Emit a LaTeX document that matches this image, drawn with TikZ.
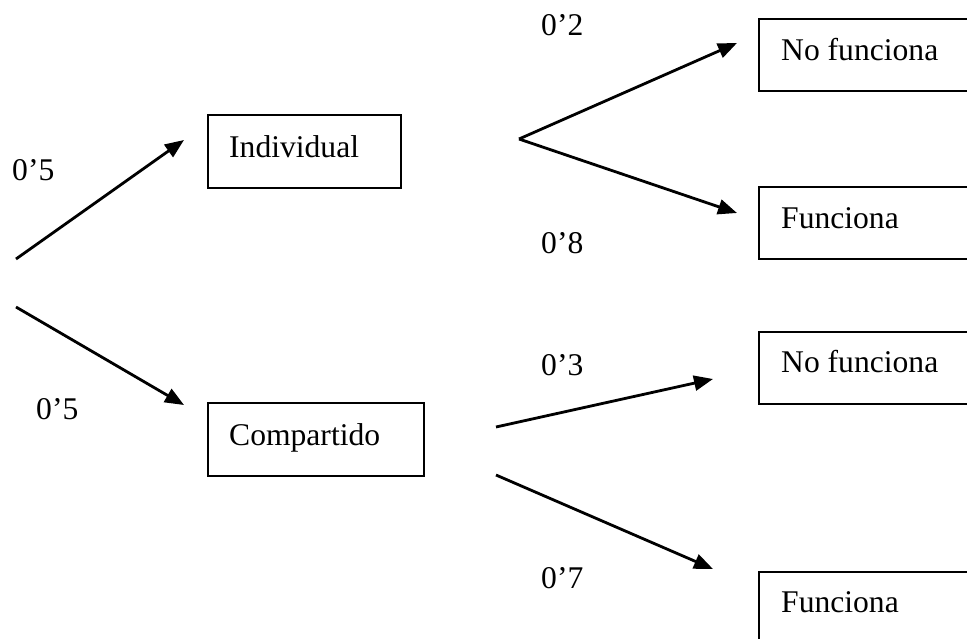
\documentclass[tikz,border=0pt]{standalone}
\usepackage{fontspec}
\setmainfont{Liberation Serif}
\usetikzlibrary{arrows.meta}
\begin{document}
\begin{tikzpicture}[x=1pt,y=-1pt,
  box/.style={draw,line width=1.5pt,rectangle,inner sep=0pt},
  txt/.style={anchor=base west,inner sep=0pt,font=\fontsize{31.6}{36}\selectfont},
  arr/.style={line width=2.8pt,-{Triangle[length=19pt,width=15pt]}}]
\clip (0,0) rectangle (967,638);
\fill[white] (0,0) rectangle (967,638);
% boxes
\node[box,minimum width=193pt,minimum height=73pt] (bI) at (304.5,151.5) {};
\node[box,minimum width=216pt,minimum height=73pt] (bC) at (316,439.5) {};
\node[box,minimum width=260pt,minimum height=72pt] (bN1) at (889,55) {};
\node[box,minimum width=260pt,minimum height=72pt] (bF1) at (889,223) {};
\node[box,minimum width=260pt,minimum height=72pt] (bN2) at (889,368) {};
\node[box,minimum width=260pt,minimum height=72pt] (bF2) at (889,608) {};
% box texts
\node[txt] (tI) at (229,157) {Individual};
\node[txt] (tC) at (229,445) {Compartido};
\node[txt] (tN1) at (781,60) {No funciona};
\node[txt] (tF1) at (781,228) {Funciona};
\node[txt] (tN2) at (781,372) {No funciona};
\node[txt] (tF2) at (781,612) {Funciona};
% probability labels
\node[txt] (p1) at (12,180) {0’5};
\node[txt] (p2) at (36,419) {0’5};
\node[txt] (p3) at (541,35) {0’2};
\node[txt] (p4) at (541,253) {0’8};
\node[txt] (p5) at (541,375) {0’3};
\node[txt] (p6) at (541,588) {0’7};
% arrow endpoints
\coordinate (s1) at (16,259);
\coordinate (e1) at (184,140);
\coordinate (s2) at (16,307);
\coordinate (e2) at (184,405);
\coordinate (b1) at (519,139);
\coordinate (e3) at (737,43);
\coordinate (e4) at (737,213);
\coordinate (s5) at (496,427);
\coordinate (e5) at (713,379);
\coordinate (s6) at (496,475);
\coordinate (e6) at (713,569);
\draw[arr] (s1) -- (e1);
\draw[arr] (s2) -- (e2);
\draw[arr] (b1) -- (e3);
\draw[arr] (b1) -- (e4);
\draw[arr] (s5) -- (e5);
\draw[arr] (s6) -- (e6);
\end{tikzpicture}
\end{document}
